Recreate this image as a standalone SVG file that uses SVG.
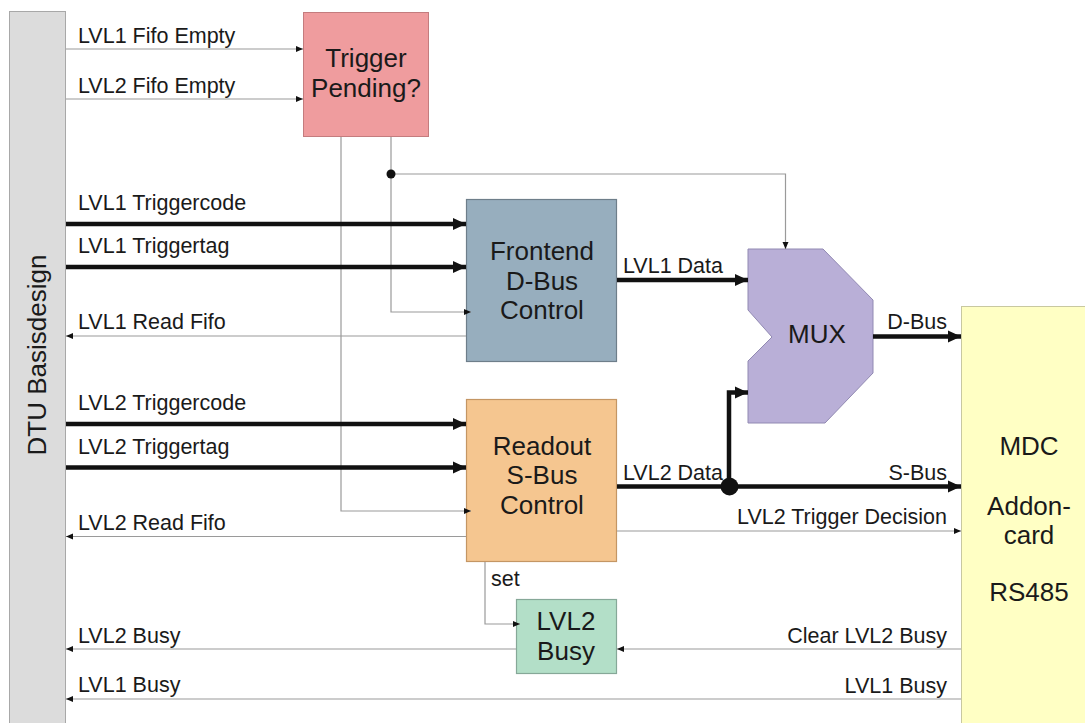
<svg xmlns="http://www.w3.org/2000/svg" width="1085" height="723" viewBox="0 0 1085 723">
<style>
text{font-family:"Liberation Sans",Arial,sans-serif;fill:#1a1a1a}
.lbl{font-size:21.5px}
.big{font-size:26px;text-anchor:middle}
.r{text-anchor:end}
.thin{stroke:#9a9a9a;stroke-width:1.2;fill:none}
.thick{stroke:#111;stroke-width:4.5;fill:none}
</style>
<defs>
<marker id="ah" markerUnits="userSpaceOnUse" markerWidth="8" markerHeight="7" refX="7" refY="3.5" orient="auto"><path d="M0,0.5 L7,3.5 L0,6.5 z" fill="#111"/></marker>
<marker id="AH" markerUnits="userSpaceOnUse" markerWidth="14" markerHeight="13" refX="13" refY="6.5" orient="auto"><path d="M0,0.5 L13,6.5 L0,12.5 z" fill="#111"/></marker>
</defs>
<rect width="1085" height="723" fill="#fff"/>

<g id="dtu">
<rect x="9.5" y="11.5" width="56" height="720" fill="#dcdcdc" stroke="#a8a8a8" stroke-width="1"/>
<text class="big" transform="translate(46,355) rotate(-90)">DTU Basisdesign</text>
</g>

<g id="mdc">
<rect x="961.5" y="306.5" width="130" height="430" fill="#ffffc4" stroke="#c8c8a0" stroke-width="1"/>
<text class="big" x="1029" y="455">MDC</text>
<text class="big" x="1029" y="515">Addon-</text>
<text class="big" x="1029" y="544">card</text>
<text class="big" x="1029" y="601">RS485</text>
</g>

<g id="trigger-pending">
<rect x="303.5" y="12.5" width="125" height="124" fill="#ef9c9e" stroke="#c47c7e" stroke-width="1"/>
<text class="big" x="366" y="67">Trigger</text>
<text class="big" x="366" y="97">Pending?</text>
</g>

<g id="frontend">
<rect x="466.5" y="199.5" width="150" height="162" fill="#97aebe" stroke="#6e7e8a" stroke-width="1.2"/>
<text class="big" x="542" y="260">Frontend</text>
<text class="big" x="542" y="290">D-Bus</text>
<text class="big" x="542" y="319">Control</text>
</g>

<g id="readout">
<rect x="466.5" y="399.5" width="150" height="162" fill="#f5c690" stroke="#c49664" stroke-width="1.2"/>
<text class="big" x="542" y="455">Readout</text>
<text class="big" x="542" y="484">S-Bus</text>
<text class="big" x="542" y="514">Control</text>
</g>

<g id="mux">
<polygon points="748,249 823,249 873,300 873,373 825,423 748,423 748,361 772,337 748,310" fill="#b9afd7" stroke="#9189b2" stroke-width="1"/>
<text class="big" x="817" y="343">MUX</text>
</g>

<g id="lvl2busy">
<rect x="516.5" y="599.5" width="100" height="74" fill="#b3dfc8" stroke="#86a898" stroke-width="1.2"/>
<text class="big" x="566" y="630">LVL2</text>
<text class="big" x="566" y="660">Busy</text>
</g>

<g id="connectors">
<line class="thin" x1="66" y1="49" x2="303" y2="49" marker-end="url(#ah)"/>
<line class="thin" x1="66" y1="99" x2="303" y2="99" marker-end="url(#ah)"/>
<polyline class="thin" points="341,137 341,511 471,511" marker-end="url(#ah)"/>
<polyline class="thin" points="391,137 391,312 471,312" marker-end="url(#ah)"/>
<polyline class="thin" points="391,174 785.5,174 785.5,249" marker-end="url(#ah)"/>
<circle cx="391" cy="174" r="4.5" fill="#111"/>

<line class="thick" x1="66" y1="224" x2="466" y2="224" marker-end="url(#AH)"/>
<line class="thick" x1="66" y1="267" x2="466" y2="267" marker-end="url(#AH)"/>
<line class="thick" x1="66" y1="424" x2="466" y2="424" marker-end="url(#AH)"/>
<line class="thick" x1="66" y1="467.5" x2="466" y2="467.5" marker-end="url(#AH)"/>

<line class="thin" x1="466" y1="336" x2="66" y2="336" marker-end="url(#ah)"/>
<line class="thin" x1="466" y1="536.5" x2="66" y2="536.5" marker-end="url(#ah)"/>

<line class="thick" x1="617" y1="280" x2="748" y2="280" marker-end="url(#AH)"/>
<line class="thick" x1="873" y1="336.5" x2="961" y2="336.5" marker-end="url(#AH)"/>
<line class="thick" x1="617" y1="486.5" x2="961" y2="486.5" marker-end="url(#AH)"/>
<polyline class="thick" points="729,486.5 729,392.5 748,392.5" marker-end="url(#AH)"/>
<circle cx="729.5" cy="486.5" r="9" fill="#111"/>

<line class="thin" x1="617" y1="531" x2="961" y2="531" marker-end="url(#ah)"/>
<polyline class="thin" points="485,562 485,624 520,624" marker-end="url(#ah)"/>
<line class="thin" x1="961" y1="649" x2="617" y2="649" marker-end="url(#ah)"/>
<line class="thin" x1="516" y1="649" x2="66" y2="649" marker-end="url(#ah)"/>
<line class="thin" x1="961" y1="699" x2="66" y2="699" marker-end="url(#ah)"/>
</g>

<g id="labels">
<text class="lbl" x="78" y="43">LVL1 Fifo Empty</text>
<text class="lbl" x="78" y="93">LVL2 Fifo Empty</text>
<text class="lbl" x="78" y="210">LVL1 Triggercode</text>
<text class="lbl" x="78" y="253">LVL1 Triggertag</text>
<text class="lbl" x="78" y="329">LVL1 Read Fifo</text>
<text class="lbl" x="78" y="410">LVL2 Triggercode</text>
<text class="lbl" x="78" y="454">LVL2 Triggertag</text>
<text class="lbl" x="78" y="530">LVL2 Read Fifo</text>
<text class="lbl" x="78" y="643">LVL2 Busy</text>
<text class="lbl" x="78" y="692">LVL1 Busy</text>
<text class="lbl" x="623" y="273">LVL1 Data</text>
<text class="lbl" x="623" y="480">LVL2 Data</text>
<text class="lbl r" x="947" y="329">D-Bus</text>
<text class="lbl r" x="947" y="480">S-Bus</text>
<text class="lbl r" x="947" y="524">LVL2 Trigger Decision</text>
<text class="lbl r" x="947" y="643">Clear LVL2 Busy</text>
<text class="lbl r" x="947" y="693">LVL1 Busy</text>
<text class="lbl" x="491" y="586">set</text>
</g>
</svg>
